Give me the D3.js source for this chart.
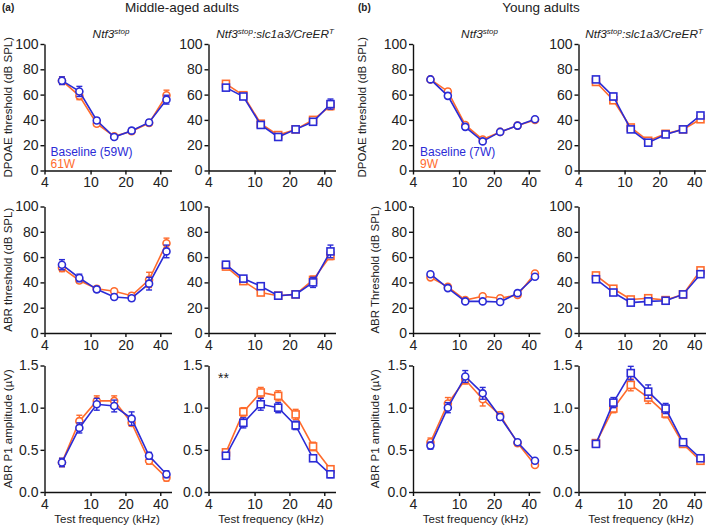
<!DOCTYPE html>
<html><head><meta charset="utf-8">
<script src="https://cdn.jsdelivr.net/npm/d3@7/dist/d3.min.js"></script>
<style>
body{margin:0;background:#fff;}
svg{font-family:"Liberation Sans",Arial,sans-serif;}
</style></head>
<body><svg id="c" width="709" height="528"></svg>
<script>
// ---------- data ----------
const freqs = [5.66, 8, 11.31, 16, 22.63, 32, 45.25];
const xTicks = [4, 10, 20, 40];
const threshTicks = [0, 20, 40, 60, 80, 100];
const ampTicks = [0, 0.5, 1.0, 1.5];

// Middle-aged, Ntf3stop
const dpMidNtfBase = [71, 62.5, 39.5, 26.5, 31.5, 38, 56];
const dpMidNtfBaseErr = [3, 4, 2, 1.5, 2, 2, 3.5];
const dpMidNtfPost = [71, 59, 37, 27, 31, 37.5, 59.5];
const dpMidNtfPostErr = [3, 3, 2, 1.5, 2, 2, 4];
const abrMidNtfBase = [54, 43.5, 34.5, 28.5, 27.5, 39, 64.5];
const abrMidNtfBaseErr = [4, 3, 2, 2, 2, 5, 5];
const abrMidNtfPost = [51.5, 41.5, 35, 33, 29.5, 42, 71];
const abrMidNtfPostErr = [3, 2, 2, 2, 2, 6, 4];
const ampMidNtfBase = [0.35, 0.76, 1.04, 1.02, 0.87, 0.43, 0.21];
const ampMidNtfBaseErr = [0.05, 0.06, 0.07, 0.07, 0.08, 0.04, 0.04];
const ampMidNtfPost = [0.35, 0.84, 1.08, 1.08, 0.82, 0.37, 0.17];
const ampMidNtfPostErr = [0.05, 0.07, 0.06, 0.06, 0.04, 0.04, 0.04];

// Middle-aged, Ntf3stop:slc1a3/CreERT
const dpMidCreBase = [65.5, 58.5, 36, 26.5, 32.5, 38.5, 52.5];
const dpMidCreBaseErr = [2, 2, 1.5, 1.5, 1.5, 2, 4];
const dpMidCrePost = [68.5, 59.5, 37, 28, 32.5, 40, 51];
const dpMidCrePostErr = [2, 2, 1.5, 1.5, 1.5, 2, 3];
const abrMidCreBase = [54, 43, 37, 29.5, 30.5, 40, 64.5];
const abrMidCreBaseErr = [2.5, 2, 2.5, 1.5, 1.5, 4, 5];
const abrMidCrePost = [52.5, 41, 32, 29.5, 30.5, 42, 61];
const abrMidCrePostErr = [2, 2, 2, 1.5, 1.5, 3, 3];
const ampMidCreBase = [0.43, 0.82, 1.04, 1.00, 0.79, 0.40, 0.21];
const ampMidCreBaseErr = [0.03, 0.06, 0.07, 0.06, 0.05, 0.03, 0.04];
const ampMidCrePost = [0.47, 0.95, 1.18, 1.14, 0.92, 0.54, 0.27];
const ampMidCrePostErr = [0.03, 0.05, 0.06, 0.06, 0.06, 0.05, 0.03];

// Young, Ntf3stop
const dpYngNtfBase = [72, 59, 34.5, 23, 30.5, 35.5, 40.5];
const dpYngNtfBaseErr = [1.5, 2, 1.5, 1.5, 1, 1, 1];
const dpYngNtfPost = [72, 62.5, 36, 24.5, 30.5, 35.5, 40];
const dpYngNtfPostErr = [1.5, 2, 1.5, 1.5, 1, 1, 1];
const abrYngNtfBase = [46.5, 35.5, 25, 25, 24.5, 31.5, 44.5];
const abrYngNtfBaseErr = [1.5, 1.5, 1, 1, 1, 1.5, 1.5];
const abrYngNtfPost = [44, 36.5, 26, 29, 27.5, 30, 47];
const abrYngNtfPostErr = [1.5, 1.5, 1, 1.5, 1.5, 1.5, 1.5];
const ampYngNtfBase = [0.55, 1.0, 1.37, 1.17, 0.89, 0.59, 0.37];
const ampYngNtfBaseErr = [0.04, 0.06, 0.07, 0.07, 0.04, 0.02, 0.02];
const ampYngNtfPost = [0.59, 1.05, 1.33, 1.10, 0.91, 0.58, 0.32];
const ampYngNtfPostErr = [0.05, 0.07, 0.05, 0.08, 0.04, 0.03, 0.02];

// Young, Ntf3stop:slc1a3/CreERT
const dpYngCreBase = [72, 58.5, 32.5, 22, 28.5, 32.5, 43.5];
const dpYngCreBaseErr = [1.5, 2.5, 1.5, 1.5, 1.5, 1.5, 1.5];
const dpYngCrePost = [70, 55.5, 34, 23.5, 29, 32.5, 40.5];
const dpYngCrePostErr = [1.5, 2, 1.5, 1.5, 1.5, 1.5, 1.5];
const abrYngCreBase = [42.5, 32, 24, 25, 25.5, 30.5, 46.5];
const abrYngCreBaseErr = [1.5, 1.5, 1.5, 1, 1, 1.5, 2];
const abrYngCrePost = [45.5, 35, 26.5, 27.5, 26, 30.5, 49.5];
const abrYngCrePostErr = [1.5, 1.5, 1.5, 1, 1, 1.5, 1.5];
const ampYngCreBase = [0.57, 1.06, 1.41, 1.19, 0.99, 0.59, 0.40];
const ampYngCreBaseErr = [0.03, 0.06, 0.08, 0.08, 0.06, 0.03, 0.02];
const ampYngCrePost = [0.58, 0.99, 1.27, 1.12, 0.93, 0.57, 0.37];
const ampYngCrePostErr = [0.03, 0.05, 0.07, 0.07, 0.05, 0.03, 0.02];

const yTitlesA = ["DPOAE threshold (dB SPL)", "ABR threshold (dB SPL)", "ABR P1 amplitude (\u00b5V)"];
const yTitlesB = ["DPOAE threshold (dB SPL)", "ABR Threshold (dB SPL)", "ABR P1 amplitude (\u00b5V)"];
const xTitle = "Test frequency (kHz)";
const legendA = ["Baseline (59W)", "61W"];
const legendB = ["Baseline (7W)", "9W"];

// ---------- layout ----------
const BLUE = "#2b2bd6", ORANGE = "#ff6b2c";
const colX = [44.5, 208.5, 413, 578.5];
const colW = 127;
const rowY = [44, 206.5, 365.5];
const rowH = 126.5;

const svg = d3.select("#c");

const panels = [
  [dpMidNtfBase,dpMidNtfBaseErr,dpMidNtfPost,dpMidNtfPostErr, dpMidCreBase,dpMidCreBaseErr,dpMidCrePost,dpMidCrePostErr, dpYngNtfBase,dpYngNtfBaseErr,dpYngNtfPost,dpYngNtfPostErr, dpYngCreBase,dpYngCreBaseErr,dpYngCrePost,dpYngCrePostErr],
  [abrMidNtfBase,abrMidNtfBaseErr,abrMidNtfPost,abrMidNtfPostErr, abrMidCreBase,abrMidCreBaseErr,abrMidCrePost,abrMidCrePostErr, abrYngNtfBase,abrYngNtfBaseErr,abrYngNtfPost,abrYngNtfPostErr, abrYngCreBase,abrYngCreBaseErr,abrYngCrePost,abrYngCrePostErr],
  [ampMidNtfBase,ampMidNtfBaseErr,ampMidNtfPost,ampMidNtfPostErr, ampMidCreBase,ampMidCreBaseErr,ampMidCrePost,ampMidCrePostErr, ampYngNtfBase,ampYngNtfBaseErr,ampYngNtfPost,ampYngNtfPostErr, ampYngCreBase,ampYngCreBaseErr,ampYngCrePost,ampYngCrePostErr]
];

function drawSeries(g, x, y, vals, errs, color, shape) {
  const pts = freqs.map((f, i) => ({f, v: vals[i], e: errs[i]}));
  g.append("path").datum(pts)
    .attr("fill", "none").attr("stroke", color).attr("stroke-width", 1.6)
    .attr("d", d3.line().x(d => x(d.f)).y(d => y(d.v)));
  const eb = g.append("g").attr("stroke", color).attr("stroke-width", 1.4);
  pts.forEach(d => {
    const cx = x(d.f), y1 = y(d.v + d.e), y2 = y(d.v - d.e);
    eb.append("line").attr("x1", cx).attr("x2", cx).attr("y1", y1).attr("y2", y2);
    eb.append("line").attr("x1", cx - 3).attr("x2", cx + 3).attr("y1", y1).attr("y2", y1);
    eb.append("line").attr("x1", cx - 3).attr("x2", cx + 3).attr("y1", y2).attr("y2", y2);
  });
  const m = g.append("g").attr("stroke", color).attr("stroke-width", 1.6).attr("fill", "#fff");
  pts.forEach(d => {
    if (shape === "circle") m.append("circle").attr("cx", x(d.f)).attr("cy", y(d.v)).attr("r", 3.5);
    else m.append("rect").attr("x", x(d.f) - 3.5).attr("y", y(d.v) - 3.5).attr("width", 7).attr("height", 7);
  });
}

for (let r = 0; r < 3; r++) {
  for (let c = 0; c < 4; c++) {
    const x = d3.scaleLog().domain([4, 50]).range([colX[c], colX[c] + colW]);
    const y = d3.scaleLinear().domain(r < 2 ? [0, 100] : [0, 1.5]).range([rowY[r] + rowH, rowY[r]]);
    const g = svg.append("g");
    const xa = g.append("g").attr("transform", `translate(0,${rowY[r] + rowH})`)
      .call(d3.axisBottom(x).tickValues(xTicks).tickFormat(d3.format("d")).tickSize(4).tickPadding(3).tickSizeOuter(0));
    const ya = g.append("g").attr("transform", `translate(${colX[c]},0)`)
      .call(d3.axisLeft(y).tickValues(r < 2 ? threshTicks : ampTicks)
        .tickFormat(r < 2 ? d3.format("d") : d3.format(".1f")).tickSize(4).tickPadding(2).tickSizeOuter(0));
    [xa, ya].forEach(a => {
      a.select(".domain").attr("stroke", "#111").attr("stroke-width", 1.4);
      a.selectAll(".tick line").attr("stroke", "#111").attr("stroke-width", 1.4);
      a.selectAll(".tick text").attr("font-size", 14).attr("fill", "#222").attr("font-family", "Liberation Sans, Arial, sans-serif");
    });
    const set = panels[r];
    const shape = (c % 2 === 0) ? "circle" : "square";
    drawSeries(g, x, y, set[c * 4 + 2], set[c * 4 + 3], ORANGE, shape);
    drawSeries(g, x, y, set[c * 4], set[c * 4 + 1], BLUE, shape);

    if (r === 2) {
      g.append("text").attr("x", colX[c] + colW / 2 - 1).attr("y", 523)
        .attr("text-anchor", "middle").attr("font-size", 11.5).attr("fill", "#222").text(xTitle);
    }
  }
}

// y titles
const yLabX_A = [7.5, 8, 8];
const yLabX_B = [362, 375, 375];
for (let r = 0; r < 3; r++) {
  const cy = rowY[r] + rowH / 2;
  svg.append("text").attr("transform", `translate(${yLabX_A[r]},${cy}) rotate(-90)`)
    .attr("text-anchor", "middle").attr("dominant-baseline", "central")
    .attr("font-size", 11.5).attr("fill", "#222").text(yTitlesA[r]);
  svg.append("text").attr("transform", `translate(${yLabX_B[r]},${cy}) rotate(-90)`)
    .attr("text-anchor", "middle").attr("dominant-baseline", "central")
    .attr("font-size", 11.5).attr("fill", "#222").text(yTitlesB[r]);
}

// headers
svg.append("text").attr("x", 2).attr("y", 11).attr("font-size", 10).attr("font-weight", "bold").attr("fill", "#222").text("(a)");
svg.append("text").attr("x", 358).attr("y", 11).attr("font-size", 10).attr("font-weight", "bold").attr("fill", "#222").text("(b)");
svg.append("text").attr("x", 182).attr("y", 12).attr("text-anchor", "middle").attr("font-size", 13.5).attr("fill", "#222").text("Middle-aged adults");
svg.append("text").attr("x", 541).attr("y", 12).attr("text-anchor", "middle").attr("font-size", 13.5).attr("fill", "#222").text("Young adults");

// subtitles
function subtitle(cx, cre) {
  const t = svg.append("text").attr("x", cx).attr("y", 38).attr("text-anchor", "middle")
    .attr("font-size", 11.8).attr("font-style", "italic").attr("fill", "#222");
  t.append("tspan").text("Ntf3");
  t.append("tspan").attr("font-size", 8).attr("dy", -4.5).text("stop");
  if (cre) {
    t.append("tspan").attr("dy", 4.5).text(":slc1a3/CreER");
    t.append("tspan").attr("font-size", 8).attr("dy", -4.5).text("T");
  }
}
subtitle(colX[0] + colW / 2 + 3, false);
subtitle(colX[1] + colW / 2 + 3, true);
subtitle(colX[2] + colW / 2 + 3, false);
subtitle(colX[3] + colW / 2 + 2, true);

// legends
function legend(x0, labels) {
  svg.append("text").attr("x", x0).attr("y", 155.5).attr("font-size", 12).attr("fill", BLUE).text(labels[0]);
  svg.append("text").attr("x", x0).attr("y", 168).attr("font-size", 12).attr("fill", ORANGE).text(labels[1]);
}
legend(50.5, legendA);
legend(420, legendB);

// significance
svg.append("text").attr("x", 218).attr("y", 383).attr("font-size", 14).attr("fill", "#222").text("**");
</script></body></html>
